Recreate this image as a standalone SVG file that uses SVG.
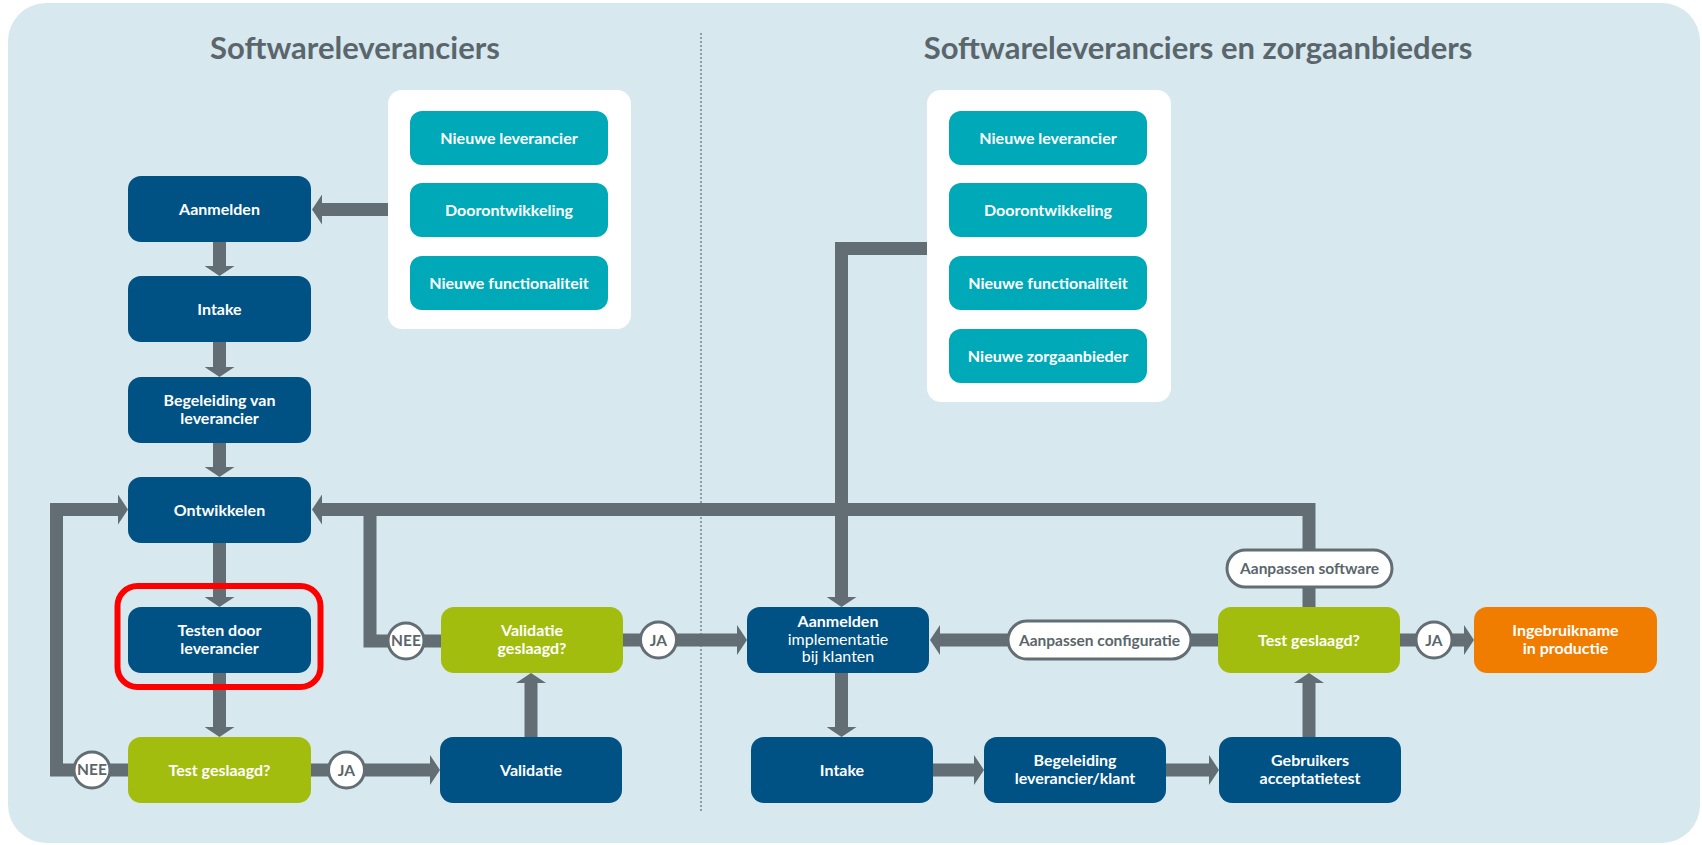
<svg xmlns="http://www.w3.org/2000/svg" width="1702" height="845" viewBox="0 0 1702 845">
<defs>
<style>
.bg{fill:#d7e8ef}
.title{font-family:Lato,"Open Sans",sans-serif;font-weight:bold;font-size:31px;fill:#5a666b;text-anchor:middle}
.wbox{fill:#ffffff}
.blue{fill:#005184}
.teal{fill:#00a9b7}
.green{fill:#a3bd0f}
.orange{fill:#f07c00}
.t{font-family:Lato,"Open Sans",sans-serif;font-weight:bold;font-size:16px;fill:#ffffff;text-anchor:middle}
.tr{font-weight:normal}
.conn{fill:none;stroke:#626e73;stroke-width:13;stroke-linejoin:miter;stroke-linecap:butt}
.circ{fill:#ffffff;stroke:#626e73;stroke-width:3}
.pill{fill:#ffffff;stroke:#626e73;stroke-width:3}
.lbl{font-family:Lato,"Open Sans",sans-serif;font-weight:bold;font-size:15.5px;fill:#5a666b;text-anchor:middle}
.div{stroke:#7a858a;stroke-width:1.5;stroke-dasharray:2 2}
.hl{fill:none;stroke:#ff0000;stroke-width:6}
</style>
<marker id="ah" viewBox="0 0 10 30" refX="0" refY="15" markerWidth="10" markerHeight="30" markerUnits="userSpaceOnUse" orient="auto">
<path d="M0,0 L10,15 L0,30 Z" fill="#626e73"/>
</marker>
</defs>

<rect class="bg" x="8" y="3" width="1692" height="840" rx="38"/>
<text class="title" x="355" y="59">Softwareleveranciers</text>
<text class="title" x="1198" y="59">Softwareleveranciers en zorgaanbieders</text>
<line class="div" x1="701" y1="33" x2="701" y2="812"/>

<g id="connectors">
<path class="conn" d="M388,209.5 H322" marker-end="url(#ah)"/>
<path class="conn" d="M219.5,242 V266" marker-end="url(#ah)"/>
<path class="conn" d="M219.5,342 V367" marker-end="url(#ah)"/>
<path class="conn" d="M219.5,443 V467" marker-end="url(#ah)"/>
<path class="conn" d="M219.5,543 V597" marker-end="url(#ah)"/>
<path class="conn" d="M219.5,673 V727" marker-end="url(#ah)"/>
<path class="conn" d="M128,770 H56.5 V509.5 H118" marker-end="url(#ah)"/>
<path class="conn" d="M311,770 H430" marker-end="url(#ah)"/>
<path class="conn" d="M531,737 V683" marker-end="url(#ah)"/>
<path class="conn" d="M441,641 H370 V509.5"/>
<path class="conn" d="M1309,607 V509.5 H322" marker-end="url(#ah)"/>
<path class="conn" d="M623,640 H737" marker-end="url(#ah)"/>
<path class="conn" d="M927,248.5 H841.5 V597" marker-end="url(#ah)"/>
<path class="conn" d="M841.5,673 V727" marker-end="url(#ah)"/>
<path class="conn" d="M1218,640 H940" marker-end="url(#ah)"/>
<path class="conn" d="M1400,640 H1464" marker-end="url(#ah)"/>
<path class="conn" d="M933,770 H974" marker-end="url(#ah)"/>
<path class="conn" d="M1166,770 H1209" marker-end="url(#ah)"/>
<path class="conn" d="M1309,737 V683" marker-end="url(#ah)"/>
</g>

<g id="start-left">
<rect class="wbox" x="388" y="90" width="243" height="239" rx="14"/>
<rect class="teal" x="410" y="111" width="198" height="54" rx="12"/>
<text class="t" x="509" y="143.5">Nieuwe leverancier</text>
<rect class="teal" x="410" y="183" width="198" height="54" rx="12"/>
<text class="t" x="509" y="215.5">Doorontwikkeling</text>
<rect class="teal" x="410" y="256" width="198" height="54" rx="12"/>
<text class="t" x="509" y="288.5">Nieuwe functionaliteit</text>
</g>

<g id="start-right">
<rect class="wbox" x="927" y="90" width="244" height="312" rx="14"/>
<rect class="teal" x="949" y="111" width="198" height="54" rx="12"/>
<text class="t" x="1048" y="143.5">Nieuwe leverancier</text>
<rect class="teal" x="949" y="183" width="198" height="54" rx="12"/>
<text class="t" x="1048" y="215.5">Doorontwikkeling</text>
<rect class="teal" x="949" y="256" width="198" height="54" rx="12"/>
<text class="t" x="1048" y="288.5">Nieuwe functionaliteit</text>
<rect class="teal" x="949" y="329" width="198" height="54" rx="12"/>
<text class="t" x="1048" y="361.5">Nieuwe zorgaanbieder</text>
</g>

<g id="aanmelden">
<rect class="blue" x="128" y="176" width="183" height="66" rx="13"/>
<text class="t" x="219.5" y="214.5">Aanmelden</text>
</g>
<g id="intake">
<rect class="blue" x="128" y="276" width="183" height="66" rx="13"/>
<text class="t" x="219.5" y="314.5">Intake</text>
</g>
<g id="begeleiding">
<rect class="blue" x="128" y="377" width="183" height="66" rx="13"/>
<text class="t" x="219.5" y="406">Begeleiding van</text>
<text class="t" x="219.5" y="424">leverancier</text>
</g>
<g id="ontwikkelen">
<rect class="blue" x="128" y="477" width="183" height="66" rx="13"/>
<text class="t" x="219.5" y="515.5">Ontwikkelen</text>
</g>
<g id="testen">
<rect class="blue" x="128" y="607" width="183" height="66" rx="13"/>
<text class="t" x="219.5" y="635.5">Testen door</text>
<text class="t" x="219.5" y="653.5">leverancier</text>
<rect class="hl" x="117.5" y="586" width="203" height="101" rx="20"/>
</g>
<g id="test-geslaagd-1">
<rect class="green" x="128" y="737" width="183" height="66" rx="13"/>
<text class="t" x="219.5" y="775.5">Test geslaagd?</text>
</g>
<g id="validatie">
<rect class="blue" x="440" y="737" width="182" height="66" rx="13"/>
<text class="t" x="531" y="775.5">Validatie</text>
</g>
<g id="validatie-geslaagd">
<rect class="green" x="441" y="607" width="182" height="66" rx="13"/>
<text class="t" x="532" y="635.5">Validatie</text>
<text class="t" x="532" y="653.5">geslaagd?</text>
</g>
<g id="aanmelden-impl">
<rect class="blue" x="747" y="607" width="182" height="66" rx="13"/>
<text class="t" x="838" y="627">Aanmelden</text>
<text class="t tr" x="838" y="644.5">implementatie</text>
<text class="t tr" x="838" y="662">bij klanten</text>
</g>
<g id="intake-2">
<rect class="blue" x="751" y="737" width="182" height="66" rx="13"/>
<text class="t" x="842" y="775.5">Intake</text>
</g>
<g id="begeleiding-2">
<rect class="blue" x="984" y="737" width="182" height="66" rx="13"/>
<text class="t" x="1075" y="765.5">Begeleiding</text>
<text class="t" x="1075" y="783.5">leverancier/klant</text>
</g>
<g id="gebruikers">
<rect class="blue" x="1219" y="737" width="182" height="66" rx="13"/>
<text class="t" x="1310" y="765.5">Gebruikers</text>
<text class="t" x="1310" y="783.5">acceptatietest</text>
</g>
<g id="test-geslaagd-2">
<rect class="green" x="1218" y="607" width="182" height="66" rx="13"/>
<text class="t" x="1309" y="645.5">Test geslaagd?</text>
</g>
<g id="ingebruikname">
<rect class="orange" x="1474" y="607" width="183" height="66" rx="13"/>
<text class="t" x="1565.5" y="635.5">Ingebruikname</text>
<text class="t" x="1565.5" y="653.5">in productie</text>
</g>

<g id="labels">
<circle class="circ" cx="92" cy="770" r="18"/>
<text class="lbl" x="92" y="775" font-size="13.5">NEE</text>
<circle class="circ" cx="346.5" cy="770" r="18"/>
<text class="lbl" x="346.5" y="775.5">JA</text>
<circle class="circ" cx="406" cy="641" r="18"/>
<text class="lbl" x="406" y="646" font-size="13.5">NEE</text>
<circle class="circ" cx="658.5" cy="640" r="18"/>
<text class="lbl" x="658.5" y="645.5">JA</text>
<circle class="circ" cx="1434" cy="640" r="18"/>
<text class="lbl" x="1434" y="645.5">JA</text>
<rect class="pill" x="1008" y="621" width="183" height="38" rx="19"/>
<text class="lbl" x="1099.5" y="645.5">Aanpassen configuratie</text>
<rect class="pill" x="1227" y="550" width="165" height="37" rx="18.5"/>
<text class="lbl" x="1309.5" y="574">Aanpassen software</text>
</g>
</svg>
